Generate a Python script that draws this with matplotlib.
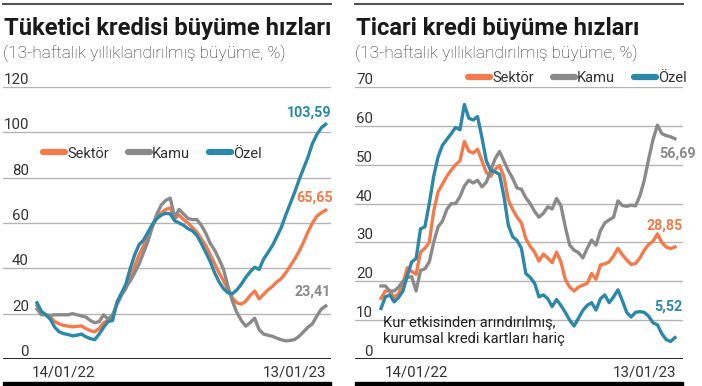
import numpy as np
import pandas as pd
import matplotlib
matplotlib.use("Agg")
import matplotlib.pyplot as plt
import matplotlib.dates as mdates
from matplotlib import font_manager
from matplotlib.lines import Line2D
from matplotlib.patches import Rectangle
from matplotlib.transforms import blended_transform_factory, offset_copy

plt.rcParams['font.family'] = ['Roboto', 'DejaVu Sans']
installed = {f.name for f in font_manager.fontManager.ttflist}
TITLE_FONT = ['Liberation Sans Narrow', 'Roboto'] if 'Liberation Sans Narrow' in installed else ['Roboto']

# --- data -------------------------------------------------------------
series_names = ["Sektör", "Kamu", "Özel"]
colors = ["#F27A4B", "#8A8A8A", "#2B88A8"]

# Tüketici kredisi (weekly, 03/12/21 - 03/03/23)
dates_tuk = pd.date_range("2021-12-03", periods=66, freq="7D")
tuk_sektor = [23.5, 20.5, 19.5, 18.5, 16.5, 15.5, 14.8, 14.5, 14.2, 14.4,
              14.6, 13.4, 12.5, 12.0, 13.5, 16.0, 17.0, 17.5, 25.0, 28.5,
              31.0, 37.0, 41.0, 46.0, 50.0, 55.0, 58.5, 62.5, 64.5, 66.0,
              66.6, 62.0, 63.5, 61.5, 60.0, 58.0, 56.0, 53.0, 50.0, 46.0,
              42.0, 38.0, 34.5, 30.5, 27.0, 24.8, 24.2, 25.5, 28.0, 30.0,
              26.5, 28.5, 30.5, 32.0, 34.0, 35.5, 38.0, 41.0, 44.0, 47.5,
              51.5, 56.0, 60.0, 63.0, 64.5, 65.65]
tuk_kamu = [22.0, 19.5, 19.5, 19.2, 19.5, 19.5, 19.5, 19.5, 20.0, 19.5,
            19.0, 18.5, 17.0, 16.0, 16.5, 19.5, 17.5, 19.5, 24.0, 28.0,
            31.5, 34.5, 38.0, 42.0, 47.0, 52.0, 58.5, 64.0, 68.0, 70.0,
            71.0, 62.5, 66.0, 64.0, 62.0, 61.5, 61.5, 59.0, 55.5, 51.0,
            48.0, 44.0, 39.5, 32.0, 25.5, 20.5, 17.0, 14.5, 16.0, 18.0,
            13.0, 11.0, 10.5, 10.0, 9.2, 8.5, 8.0, 8.2, 8.6, 10.0,
            12.0, 14.0, 15.5, 19.0, 22.0, 23.41]
tuk_ozel = [24.8, 21.0, 19.5, 17.5, 14.0, 12.0, 11.2, 10.8, 10.2, 10.5,
            11.0, 9.8, 9.0, 8.5, 11.0, 14.0, 16.5, 17.0, 25.0, 29.0,
            33.0, 40.0, 46.0, 50.5, 52.5, 56.0, 59.5, 62.0, 63.5, 64.3,
            64.0, 61.0, 60.0, 59.0, 57.5, 56.5, 54.5, 51.0, 47.0, 43.0,
            38.0, 34.0, 31.0, 29.2, 28.8, 30.5, 33.0, 36.0, 38.5, 40.5,
            39.5, 44.0, 47.0, 50.0, 54.0, 58.0, 63.5, 68.5, 73.5, 79.0,
            84.0, 89.0, 95.0, 99.0, 102.0, 103.59]

# Ticari kredi (weekly, 19/11/21 - 03/03/23)
dates_tic = pd.date_range("2021-11-19", periods=68, freq="7D")
tic_sektor = [15.6, 17.5, 17.5, 15.8, 16.8, 19.5, 23.5, 22.5, 21.8, 27.5,
              28.5, 30.0, 38.0, 43.0, 45.0, 47.0, 48.6, 50.0, 51.0, 56.0,
              53.5, 53.0, 54.0, 51.0, 48.0, 47.0, 48.8, 49.8, 47.0, 41.0,
              38.5, 36.5, 35.0, 31.0, 29.0, 27.5, 25.2, 27.0, 26.0, 24.8,
              27.5, 25.0, 20.5, 18.5, 17.5, 18.5, 19.0, 19.5, 22.0, 20.5,
              24.2, 24.5, 25.0, 26.5, 28.5, 26.8, 25.5, 24.3, 24.6, 26.0,
              28.0, 29.5, 30.3, 32.2, 30.0, 28.8, 28.4, 28.85]
tic_kamu = [18.8, 18.8, 17.5, 17.5, 18.5, 20.0, 21.0, 21.2, 17.5, 22.8,
            23.2, 25.0, 30.0, 34.0, 35.5, 38.5, 40.0, 40.0, 41.8, 44.5,
            46.0, 45.3, 46.0, 44.3, 45.5, 48.5, 51.5, 53.4, 51.0, 48.5,
            46.5, 44.0, 43.7, 41.5, 40.0, 38.0, 36.5, 37.5, 39.2, 38.6,
            41.3, 39.5, 34.0, 29.3, 28.0, 27.4, 26.0, 28.5, 30.6, 29.3,
            33.0, 35.0, 35.8, 36.5, 40.7, 39.5, 39.3, 39.6, 39.4, 42.0,
            46.0, 51.5, 56.5, 60.2, 58.0, 57.5, 57.2, 56.69]
tic_ozel = [13.0, 16.0, 16.5, 14.7, 15.8, 17.5, 21.5, 25.0, 25.8, 33.5,
            34.0, 40.0, 47.0, 52.0, 55.0, 56.5, 58.0, 59.6, 59.0, 65.5,
            62.0, 61.5, 62.4, 57.0, 51.0, 48.5, 48.2, 47.5, 42.0, 34.5,
            31.5, 30.5, 28.5, 22.0, 21.0, 19.5, 16.0, 16.5, 15.5, 13.5,
            15.3, 13.8, 12.0, 10.0, 8.5, 10.5, 12.5, 13.8, 14.5, 12.6,
            15.5, 16.5, 14.5, 16.0, 17.8, 15.0, 12.0, 10.8, 12.0, 12.2,
            12.0, 11.0, 9.3, 8.8, 6.5, 5.0, 4.5, 5.52]

tuk_yticks = [0, 20, 40, 60, 80, 100, 120]
tic_yticks = [0, 10, 20, 30, 40, 50, 60, 70]

W, H = 702, 386
fig = plt.figure(figsize=(W / 100, H / 100), dpi=100)
fig.patch.set_facecolor("white")


def fit(txt, width_px):
    r = fig.canvas.get_renderer()
    w = txt.get_window_extent(r).width
    txt.set_fontsize(txt.get_fontsize() * width_px / w)


def panel(x0, dates, data, yticks, lab_x, title, title_w, sub_w,
          first_px, last_px, tick_idx, leg_anchor, offsets):
    ax = fig.add_axes([x0 / W, 1 - 359 / H, 328 / W, 272 / H])
    for s, c in zip(data, colors):
        ax.plot(dates, s, color=c, lw=2.4, solid_joinstyle="round", zorder=3)

    # x range so that first/last week land where the original puts them
    d = mdates.date2num(dates)
    step = (d[-1] - d[0]) / (last_px - first_px)
    ax.set_xlim(d[0] - (first_px - x0) * step, d[-1] + (x0 + 328 - last_px) * step)
    ax.set_ylim(0, yticks[-1])

    for sp in ax.spines.values():
        sp.set_visible(False)
    ax.set_yticks(yticks)
    ax.set_yticklabels([])
    ax.grid(axis="y", color="#B4B4B4", lw=1.0)
    ax.axhline(0, color="#222222", lw=1.4, zorder=4)
    ax.tick_params(axis="y", length=0)

    trans = offset_copy(blended_transform_factory(ax.transAxes, ax.transData),
                        fig=fig, x=0, y=3, units="dots")
    for v in yticks:
        ax.text(lab_x, v, str(v), transform=trans, ha="right", va="baseline",
                fontsize=10.8, color="#333333")

    ax.set_xticks([dates[i] for i in tick_idx])
    ax.xaxis.set_major_formatter(mdates.DateFormatter("%d/%m/%y"))
    ax.tick_params(axis="x", length=0, pad=5.0, labelsize=10.8, labelcolor="#333333")

    handles = [Line2D([], [], color=c, lw=4.5, solid_capstyle="round") for c in colors]
    ax.legend(handles, series_names, loc="center left", bbox_to_anchor=leg_anchor,
              ncol=3, frameon=False, handlelength=1.5, handletextpad=0.15,
              columnspacing=1.3, fontsize=10.5, borderpad=0, borderaxespad=0,
              labelcolor="#333333")

    for s, c, (dx, dy) in zip(data, colors, offsets):
        ax.annotate(f"{s[-1]:.2f}".replace(".", ","), xy=(dates[-1], s[-1]),
                    xytext=(dx, dy), textcoords="offset pixels", ha="center",
                    va="center", color=c, fontweight="bold", fontsize=10.3)

    t = fig.text((x0 + 0.5) / W, 1 - 35 / H, title, fontsize=20, fontweight="bold",
                 va="baseline", ha="left", color="#1A1A1A", family=TITLE_FONT)
    fit(t, title_w)
    s = fig.text(x0 / W, 1 - 58.5 / H, "(13-haftalık yıllıklandırılmış büyüme, %)",
                 fontsize=12, fontweight="light", va="baseline", ha="left",
                 color="#2A2A2A")
    fit(s, sub_w)

    fig.add_artist(Line2D([x0 / W, (x0 + 328) / W], [1 - 4 / H] * 2,
                          color="#555555", lw=1.5, transform=fig.transFigure))
    fig.add_artist(Rectangle((x0 / W, 0), 328 / W, 4.5 / H, color="black",
                             transform=fig.transFigure))
    return ax


axL = panel(3, dates_tuk, [tuk_sektor, tuk_kamu, tuk_ozel], tuk_yticks, 26 / 328,
            "Tüketici kredisi büyüme hızları", 328, 282, 37, 325.7, [6, 58],
            ((43 - 3) / 328, (359 - 153.5) / 272),
            [(-11, 13), (-13, 14), (-17, 12)])

axR = panel(355, dates_tic, [tic_sektor, tic_kamu, tic_ozel], tic_yticks, 18 / 328,
            "Ticari kredi büyüme hızları", 283, 282, 381, 675, [8, 60],
            ((468 - 355) / 328, (359 - 78) / 272),
            [(-10, 21), (3, -15), (-7, 31)])

note = axR.text((383 - 355) / 328, (359 - 316) / 272,
                "Kur etkisinden arındırılmış,\nkurumsal kredi kartları hariç",
                transform=axR.transAxes, ha="left", va="top", fontsize=11,
                linespacing=1.15, color="#222222")
fit(note, 181)

fig.savefig("out.png", dpi=100, facecolor="white")
